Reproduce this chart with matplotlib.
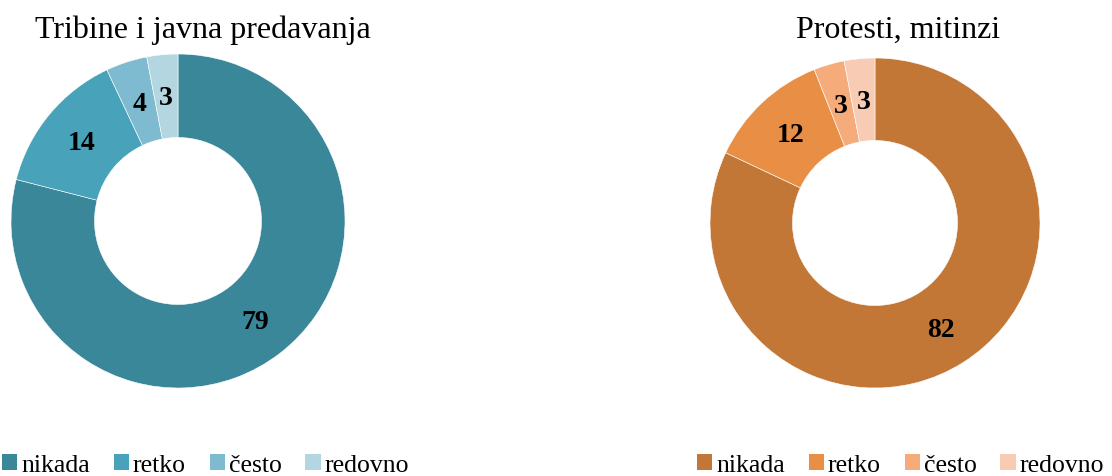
import numpy as np
import matplotlib.pyplot as plt
from matplotlib.patches import Patch

plt.rcParams['font.family'] = ['Liberation Serif', 'DejaVu Serif']

categories = ['nikada', 'retko', 'često', 'redovno']
tribine = [79, 14, 4, 3]
protesti = [82, 12, 3, 3]
titles = ['Tribine i javna predavanja', 'Protesti, mitinzi']

blues = ['#3A879A', '#48A3BA', '#7FBBD0', '#B4D6E1']
oranges = ['#C37737', '#E88F45', '#F6AB7A', '#F8CBB4']

W, H = 1112, 477
fig = plt.figure(figsize=(W / 100, H / 100), dpi=100)


def donut(values, colors, title, cx, cy, r, title_x, legend_x):
    ax = fig.add_axes([(cx - r) / W, 1 - (cy + r) / H, 2 * r / W, 2 * r / H])
    wedges, _ = ax.pie(values, colors=colors, startangle=90, counterclock=False,
                       radius=1, wedgeprops=dict(width=0.5, edgecolor='white', linewidth=0.4))
    for w, v in zip(wedges, values):
        ang = np.deg2rad((w.theta1 + w.theta2) / 2)
        ax.text(0.75 * np.cos(ang), 0.75 * np.sin(ang) - 0.01, str(v), ha='center', va='center',
                fontsize=20, fontweight='bold')
    ax.set_xlim(-1, 1)
    ax.set_ylim(-1, 1)
    ax.set_aspect('equal')
    ax.axis('off')
    fig.text(title_x / W, 1 - 30 / H, title, ha='center', va='center', fontsize=23)
    handles = [Patch(facecolor=c, label=l) for c, l in zip(colors, categories)]
    fig.legend(handles=handles, loc='center left', bbox_to_anchor=(legend_x / W, 1 - 466 / H),
               ncol=4, frameon=False, fontsize=18.5, handlelength=0.6, handleheight=0.6,
               handletextpad=0.15, columnspacing=0.92, borderpad=0, borderaxespad=0)


donut(tribine, blues, titles[0], 178, 222, 167, 203, 2)
donut(protesti, oranges, titles[1], 875, 224, 165, 898, 697)

fig.savefig('out.png', dpi=100)
